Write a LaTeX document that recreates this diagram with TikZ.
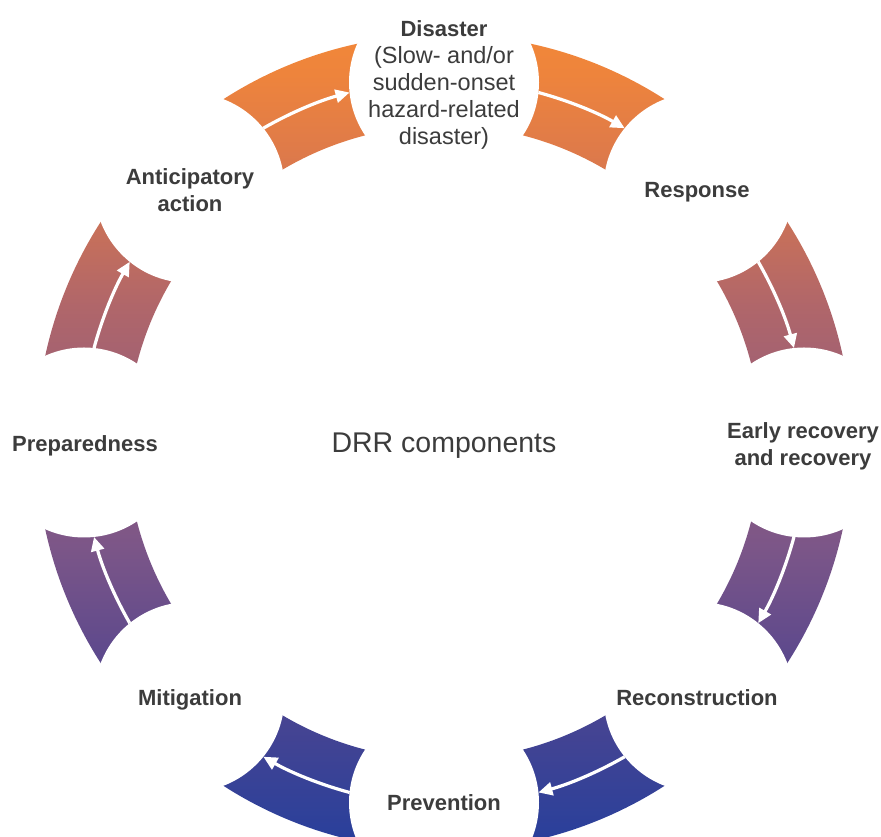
\documentclass[tikz,border=0pt]{standalone}
\usepackage{fontspec}
\setmainfont{Liberation Sans}
\usetikzlibrary{arrows.meta}

% colours of the ring, from the bottom (blue) to the top (orange)
\definecolor{g0}{HTML}{2A3F9B}
\definecolor{g1}{HTML}{2C409A}
\definecolor{g2}{HTML}{464492}
\definecolor{g3}{HTML}{604A8C}
\definecolor{g4}{HTML}{7C5688}
\definecolor{g5}{HTML}{985E78}
\definecolor{g6}{HTML}{B0666A}
\definecolor{g7}{HTML}{DE7A4A}
\definecolor{g8}{HTML}{EE843C}
\definecolor{g9}{HTML}{F58A36}
\definecolor{labeltext}{HTML}{3C3C3C}

% vertical gradient; the shaded rectangle spans 25bp..75bp of it
\pgfdeclareverticalshading{ringgrad}{100bp}{%
  color(0bp)=(g0); color(25bp)=(g0); color(25.5bp)=(g1); color(31.9bp)=(g2);
  color(36.4bp)=(g3); color(42.4bp)=(g4); color(50bp)=(g5); color(56.7bp)=(g6);
  color(65.8bp)=(g7); color(70.6bp)=(g8); color(75bp)=(g9); color(100bp)=(g9)}

\tikzset{
  flowarrow/.style={draw=white, line width=3.2pt,
    -{Triangle[length=14pt,width=13pt]}},
  lbl/.style={text=labeltext, font=\fontsize{22}{27}\selectfont\bfseries,
    align=center, inner sep=0pt},
  title/.style={text=labeltext, font=\fontsize{28.5}{34}\selectfont, inner sep=0pt},
}

\begin{document}
\begin{tikzpicture}[x=1pt,y=1pt]
\useasboundingbox (0,0) rectangle (881,837);
\coordinate (C) at (444,394.5);

% shaded ring
\begin{scope}[even odd rule]
  \clip (C) circle[radius=408pt] (C) circle[radius=317pt];
  \shade[shading=ringgrad] (0,0) rectangle (881,837);
\end{scope}

% round gaps that split the ring into eight segments
\foreach \a in {90,45,0,-45,-90,-135,-180,-225}
  \fill[white] ([shift={(\a:360pt)}]C) circle[radius=95pt];

% clockwise arrows inside the segments
\foreach \a in {90,45,0,-45,-90,-135,-180,-225}
  \draw[flowarrow] ([shift={(\a-15.1:362.5pt)}]C)
    arc[start angle=\a-15.1, end angle=\a-29.9, radius=362.5pt];

% labels
\node[lbl] (disaster) at (444,752) {Disaster\\
  {\fontsize{23.5}{27}\selectfont\mdseries (Slow- and/or}\\
  {\fontsize{23.5}{27}\selectfont\mdseries sudden-onset}\\
  {\fontsize{23.5}{27}\selectfont\mdseries hazard-related}\\
  {\fontsize{23.5}{27}\selectfont\mdseries disaster)}};
\node[lbl] (response) at (697,644.5) {Response};
\node[lbl] (early) at (803,390.5) {Early recovery\\and recovery};
\node[lbl] (recon) at (697,139) {Reconstruction};
\node[lbl] (prevention) at (444,34) {Prevention};
\node[lbl] (mitigation) at (190,137.5) {Mitigation};
\node[lbl] (preparedness) at (85,391.5) {Preparedness};
\node[lbl] (anticipatory) at (190,646.5) {Anticipatory\\action};
\node[title] (centre) at (444,391.5) {DRR components};
\end{tikzpicture}
\end{document}
